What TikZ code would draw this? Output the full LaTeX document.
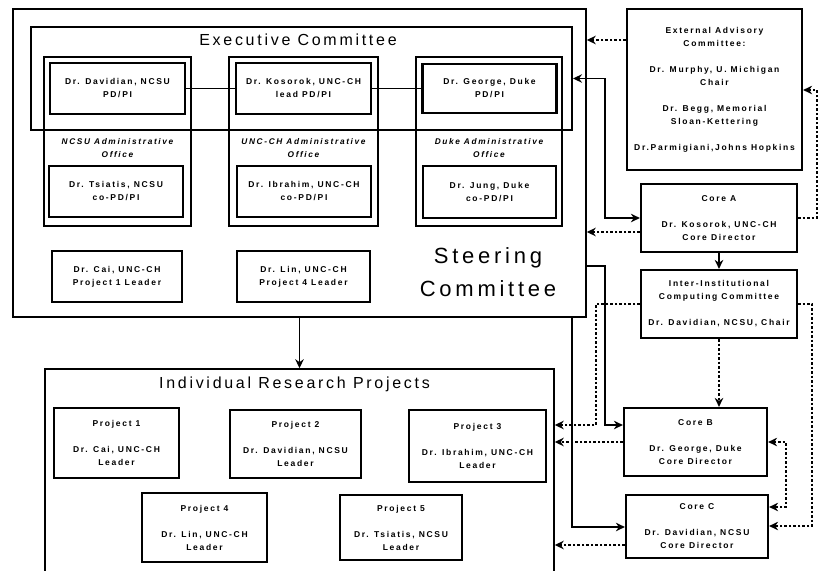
\documentclass[tikz,border=0pt]{standalone}
\usepackage{fontspec}
\setmainfont{Liberation Sans}
\newfontfamily\boxfont[LetterSpace=20]{Liberation Sans}
\newfontfamily\headfont[LetterSpace=17]{Liberation Sans}
\usetikzlibrary{arrows.meta, positioning}

\begin{document}
\begin{tikzpicture}[
    x=1pt, y=-1pt,
    >={Stealth[length=9pt, width=8.5pt]},
    every node/.style={inner sep=0pt, align=center},
    txt/.style={font=\boxfont\bfseries\fontsize{8.5}{13}\selectfont},
    offlbl/.style={font=\boxfont\bfseries\itshape\fontsize{8.3}{13}\selectfont},
    box/.style={txt, draw, line width=2.2pt},
    office/.style={draw, line width=1.3pt},
    group/.style={draw, line width=1.5pt},
    head/.style={font=\headfont\fontsize{16}{20}\selectfont},
    link/.style={line width=1.8pt, ->},
    dlink/.style={link, dash pattern=on 2.5pt off 2pt},
]
\useasboundingbox (0,0) rectangle (823,571);
\clip (0,0) rectangle (823,571);

% === STEERING COMMITTEE ===
\node[group, minimum width=573, minimum height=308] (steer) at (299.5,163) {};
\node[group, line width=2pt, minimum width=541, minimum height=103] (exec) at (301.5,78.5) {};
\node[head] (exec_title) at (298,40) {Executive Committee};

\node[office, minimum width=147, minimum height=169] (ncsu_off) at (117.5,141.5) {};
\node[office, minimum width=149, minimum height=169] (unc_off) at (303.5,141.5) {};
\node[office, minimum width=146, minimum height=169] (duke_off) at (489,141.5) {};

\node[box, minimum width=135, minimum height=51] (davidian) at (117.5,88.5) {Dr. Davidian, NCSU\\PD/PI};
\node[box, minimum width=135, minimum height=51] (kosorok) at (303.5,88.5) {Dr. Kosorok, UNC-CH\\lead PD/PI};
\node[box, minimum width=134, minimum height=49] (george) at (489.5,88.5) {Dr. George, Duke\\PD/PI};

\node[offlbl] (ncsu_lbl) at (117.5,148) {NCSU Administrative\\Office};
\node[offlbl] (unc_lbl) at (303.5,148) {UNC-CH Administrative\\Office};
\node[offlbl] (duke_lbl) at (489,148) {Duke Administrative\\Office};

\node[box, minimum width=134, minimum height=51] (tsiatis) at (116,191.5) {Dr. Tsiatis, NCSU\\co-PD/PI};
\node[box, minimum width=134, minimum height=51] (ibrahim) at (304,191.5) {Dr. Ibrahim, UNC-CH\\co-PD/PI};
\node[box, minimum width=133, minimum height=52] (jung) at (489.5,192) {Dr. Jung, Duke\\co-PD/PI};

\node[box, minimum width=130, minimum height=51] (cai) at (117,276.5) {Dr. Cai, UNC-CH\\Project 1 Leader};
\node[box, minimum width=133, minimum height=51] (lin) at (303.5,276.5) {Dr. Lin, UNC-CH\\Project 4 Leader};

\node[head, font=\headfont\fontsize{22}{33}\selectfont] (steer_title) at (488,272) {Steering\\Committee};

\draw[line width=1.3pt] (davidian) -- (kosorok);
\draw[line width=1.3pt] (kosorok) -- (george);

% === RESEARCH PROJECTS ===
\node[group, minimum width=509, minimum height=240] (irp) at (299.5,489) {};
\node[head] (irp_title) at (294.5,384) {Individual Research Projects};

\node[box, minimum width=125, minimum height=70] (proj1) at (116.5,443) {Project 1\\[13pt]Dr. Cai, UNC-CH\\Leader};
\node[box, minimum width=131, minimum height=68] (proj2) at (295.5,444) {Project 2\\[13pt]Dr. Davidian, NCSU\\Leader};
\node[box, minimum width=137, minimum height=72] (proj3) at (477.5,446) {Project 3\\[13pt]Dr. Ibrahim, UNC-CH\\Leader};
\node[box, minimum width=125, minimum height=69] (proj4) at (204.5,527.5) {Project 4\\[13pt]Dr. Lin, UNC-CH\\Leader};
\node[box, minimum width=122, minimum height=65] (proj5) at (401,527.5) {Project 5\\[13pt]Dr. Tsiatis, NCSU\\Leader};

% === ADVISORY AND CORES ===
\node[box, minimum width=175, minimum height=161] (eac) at (714.5,89.5) {External Advisory\\Committee:\\[13pt]Dr. Murphy, U. Michigan\\Chair\\[13pt]Dr. Begg, Memorial\\Sloan-Kettering\\[13pt]Dr.Parmigiani,Johns Hopkins};
\node[box, minimum width=156, minimum height=68] (coreA) at (719,218) {Core A\\[13pt]Dr. Kosorok, UNC-CH\\Core Director};
\node[box, minimum width=156, minimum height=68] (icc) at (719,304) {Inter-Institutional\\Computing Committee\\[13pt]Dr. Davidian, NCSU, Chair};
\node[box, minimum width=143, minimum height=68] (coreB) at (695.5,442) {Core B\\[13pt]Dr. George, Duke\\Core Director};
\node[box, minimum width=142, minimum height=63] (coreC) at (697,526.5) {Core C\\[13pt]Dr. Davidian, NCSU\\Core Director};

% solid links
\draw[link, <->] (exec.east) -| (605,218) -- (coreA.west);
\draw[link] (coreA) -- (icc);
\draw[link] (steer) -- (irp);
\draw[link] (steer.east |- 0,266) -| (605,425) -- (coreB.west |- 0,425);
\draw[link] (steer.south -| 572,0) |- (coreC.west |- 0,527);

% dotted links
\draw[dlink] (eac.west |- 0,40) -- (steer.east |- 0,40);
\draw[dlink] (coreA.west |- 0,232) -- (steer.east |- 0,232);
\draw[dlink] (coreA.east) -| (817,90) -- (eac.east |- 0,90);
\draw[dlink] (icc.west) -| (596,425) -- (irp.east |- 0,425);
\draw[dlink] (icc.south) -- (icc.south |- coreB.north);
\draw[dlink] (icc.east) -| (812,526) -- (coreC.east |- 0,526);
\draw[dlink] (coreB.west) -- (coreB.west -| irp.east);
\draw[dlink, <->] (coreB.east) -| (786,507) -- (coreC.east |- 0,507);
\draw[dlink] (coreC.west |- 0,545) -- (irp.east |- 0,545);

\end{tikzpicture}
\end{document}
